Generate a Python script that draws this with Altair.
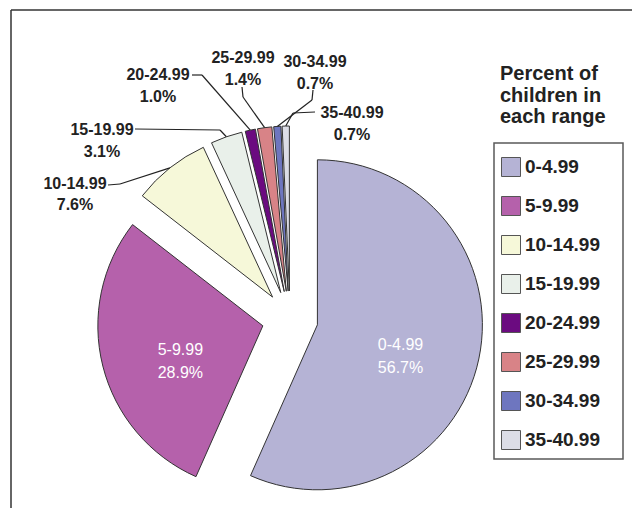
import altair as alt
import pandas as pd

# ---------------- data ----------------
ranges = ["0-4.99", "5-9.99", "10-14.99", "15-19.99",
          "20-24.99", "25-29.99", "30-34.99", "35-40.99"]
percents = [56.7, 28.9, 7.6, 3.1, 1.0, 1.4, 0.7, 0.7]
colors = ["#b5b3d5", "#b561ab", "#f6f8d9", "#e9f0ea",
          "#6b0b80", "#d88387", "#6e76bf", "#dcdde6"]
legend_title = ["Percent of", "children in", "each range"]
inside_labels = ["0-4.99", "5-9.99"]

# ---------------- layout ----------------
W, H = 624, 500
CX, CY, R, D = 282, 311, 165, 28      # pie centre, radius, explode distance
RIN, DYIN = 113, 3                    # inner label placement
FONT = "Liberation Sans"

# callout layout (label centre, leader start, leader elbow) in view pixels
callouts = pd.DataFrame({
    "range": ranges[2:],
    "lx": [67, 94, 150, 235, 307, 344],
    "ly": [175.5, 122, 67, 50, 54, 105],
    "sx": [100, 127, 184, 234, 305, 307],
    "sy": [177, 121, 67, 79, 82, 104],
    "ex": [112, 212, 194, 235, 304, 285],
    "ey": [176, 122, 67, 89, 92, 105],
})

df = pd.DataFrame({"range": ranges, "pct": percents, "idx": list(range(len(ranges)))})

base = (
    alt.Chart(df)
    .transform_joinaggregate(total="sum(pct)")
    .transform_window(cum="sum(pct)", sort=[alt.SortField("idx")])
    .transform_calculate(t0="(datum.cum - datum.pct) / datum.total * 2 * PI")
    .transform_calculate(t1="datum.cum / datum.total * 2 * PI")
    .transform_calculate(mid="(datum.t0 + datum.t1) / 2")
    .transform_calculate(cx=f"{CX} + {D} * sin(datum.mid)")
    .transform_calculate(cy=f"{CY} - {D} * cos(datum.mid)")
    .transform_calculate(px=f"{CX} + {D + R} * sin(datum.mid)")
    .transform_calculate(py=f"{CY} - {D + R} * cos(datum.mid)")
    .transform_calculate(lab="datum.range + '\\n' + format(datum.pct, '.1f') + '%'")
)

def X(f):
    return alt.X(f, type="quantitative", scale=None, axis=None)

def Y(f):
    return alt.Y(f, type="quantitative", scale=None, axis=None)

pie = base.mark_arc(outerRadius=R, stroke="#333333", strokeWidth=1).encode(
    x=X("cx"),
    y=Y("cy"),
    theta=alt.Theta("t0:Q", scale=None),
    theta2=alt.Theta2("t1"),
    color=alt.Color(
        "range:N",
        sort=ranges,
        scale=alt.Scale(domain=ranges, range=colors),
        legend=alt.Legend(
            title=None, orient="none", legendX=493, legendY=149,
            symbolType="square", symbolSize=361, symbolStrokeColor="#555555",
            symbolStrokeWidth=1, symbolOpacity=1,
            labelFont=FONT, labelFontSize=19, labelFontWeight="bold",
            labelColor="#222222", labelOffset=4, rowPadding=15, padding=0,
        ),
    ),
)

inner = (
    base.transform_filter(alt.FieldOneOfPredicate(field="range", oneOf=inside_labels))
    .transform_calculate(tx=f"{CX} + {RIN} * sin(datum.mid)")
    .transform_calculate(ty=f"{CY} - {RIN} * cos(datum.mid) + {DYIN}")
    .mark_text(lineBreak="\n", font=FONT, fontSize=16, color="white",
               align="center", baseline="middle", lineHeight=23)
    .encode(x=X("tx"), y=Y("ty"), text="lab:N")
)

co = base.transform_lookup(
    lookup="range",
    from_=alt.LookupData(callouts, "range", ["lx", "ly", "sx", "sy", "ex", "ey"]),
).transform_filter("isValid(datum.lx)")

seg1 = co.mark_rule(color="#222222", strokeWidth=1.2).encode(
    x=X("sx"), y=Y("sy"), x2=alt.X2("ex"), y2=alt.Y2("ey"))
seg2 = co.mark_rule(color="#222222", strokeWidth=1.2).encode(
    x=X("ex"), y=Y("ey"), x2=alt.X2("px"), y2=alt.Y2("py"))
out_labels = co.mark_text(lineBreak="\n", font=FONT, fontSize=16, fontWeight="bold",
                          color="#222222", align="center", baseline="middle",
                          lineHeight=21.5).encode(x=X("lx"), y=Y("ly"), text="lab:N")

one = pd.DataFrame({"k": [0]})
box = alt.Chart(one).mark_rect(fill="white", stroke="#5a5a5a", strokeWidth=1.5).encode(
    x=alt.value(486), x2=alt.value(615), y=alt.value(135), y2=alt.value(451))

title = alt.Chart(pd.DataFrame({"t": ["\n".join(legend_title)]})).mark_text(
    align="left", baseline="alphabetic", lineBreak="\n", font=FONT, fontSize=20,
    fontWeight="bold", lineHeight=21.5, color="#222222",
).encode(x=alt.value(492), y=alt.value(72), text="t:N")

border_top = alt.Chart(one).mark_rule(color="#333333", strokeWidth=1.5).encode(
    x=alt.value(3), x2=alt.value(W), y=alt.value(2), y2=alt.value(2))
border_left = alt.Chart(one).mark_rule(color="#333333", strokeWidth=1.5).encode(
    x=alt.value(3), x2=alt.value(3), y=alt.value(2), y2=alt.value(H))

chart = alt.layer(
    border_top, border_left, box, pie, seg1, seg2, out_labels, inner, title
).properties(width=W, height=H, padding=0, autosize="none").configure_view(stroke=None)

chart.save("out.html", embed_options={"renderer": "svg", "actions": False})
